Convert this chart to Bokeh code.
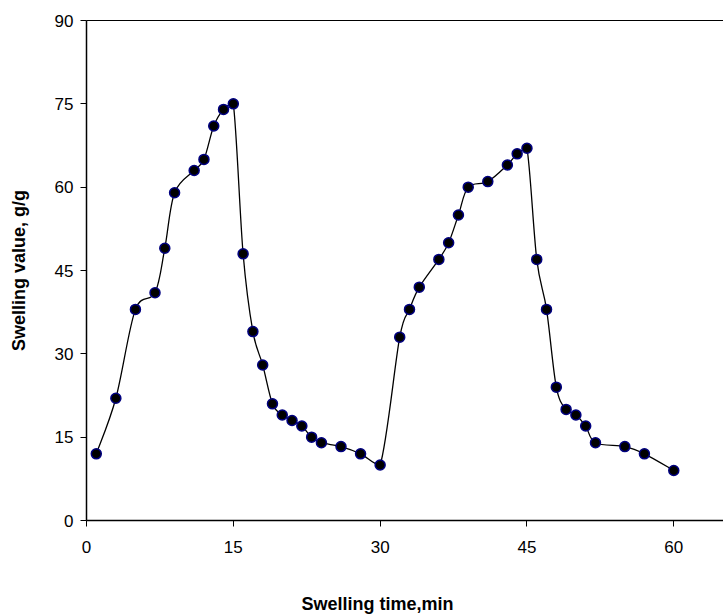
import math
from bokeh.plotting import figure
from bokeh.models import Range1d, FixedTicker, Label, LinearAxis
from bokeh.embed import file_html
from bokeh.resources import INLINE

# Data
time_min = [1, 3, 5, 7, 8, 9, 11, 12, 13, 14, 15, 16, 17, 18, 19, 20, 21, 22, 23, 24,
            26, 28, 30, 32, 33, 34, 36, 37, 38, 39, 41, 43, 44, 45, 46, 47, 48, 49, 50, 51,
            52, 55, 57, 60]
swelling = [12, 22, 38, 41, 49, 59, 63, 65, 71, 74, 75, 48, 34, 28, 21, 19, 18, 17, 15, 14,
            13.3, 12, 10, 33, 38, 42, 47, 50, 55, 60, 61, 64, 66, 67, 47, 38, 24, 20, 19, 17,
            14, 13.3, 12, 9]
x_ticks = [0, 15, 30, 45, 60]
y_ticks = [0, 15, 30, 45, 60, 75, 90]
x_title = "Swelling time,min"
y_title = "Swelling value, g/g"

FONT = "Liberation Sans"
X_END = 65.08

# The frame fills the whole canvas; axes are pinned at x=0 / y=0 so that the
# tick labels and titles around them stay inside the frame.
p = figure(width=723, height=614, output_backend="svg", toolbar_location=None,
           x_range=Range1d(-8.786, X_END), y_range=Range1d(-16.92, 93.6),
           min_border=0, min_border_left=0, min_border_right=0,
           min_border_top=0, min_border_bottom=0)
p.background_fill_color = "white"
p.border_fill_color = "white"
p.outline_line_color = None
p.grid.visible = False

for ax in (p.xaxis[0], p.yaxis[0]):
    ax.axis_line_color = "black"
    ax.axis_line_width = 1.5
    ax.major_tick_line_color = "black"
    ax.major_tick_in = 0
    ax.major_tick_out = 6
    ax.minor_tick_line_color = None
    ax.major_label_text_font = FONT
    ax.major_label_text_font_size = "17px"
    ax.major_label_text_color = "black"

p.xaxis.ticker = FixedTicker(ticks=x_ticks)
p.yaxis.ticker = FixedTicker(ticks=y_ticks)
p.xaxis.fixed_location = 0
p.yaxis.fixed_location = 0
p.xaxis.bounds = (0, X_END)
p.yaxis.bounds = (0, 90)
p.xaxis.major_label_standoff = 14
p.yaxis.major_label_standoff = 7

# top border of the plot area
top = LinearAxis(fixed_location=90, bounds=(0, X_END), axis_line_color="black",
                 axis_line_width=1.2, major_tick_line_color=None,
                 minor_tick_line_color=None, major_label_text_font_size="0px",
                 ticker=FixedTicker(ticks=[]))
p.add_layout(top, "above")

p.add_layout(Label(x=29.73, y=-15.1, text=x_title, text_font=FONT, text_font_style="bold",
                   text_font_size="18px", text_align="center", text_baseline="middle",
                   text_color="black"))
p.add_layout(Label(x=-6.9, y=45, text=y_title, angle=math.pi / 2, text_font=FONT,
                   text_font_style="bold", text_font_size="18px", text_align="center",
                   text_baseline="middle", text_color="black"))

# Smooth line through the points (cubic Bezier segments, handles clamped)
n = len(time_min)
x0s, y0s, x1s, y1s, c0x, c0y, c1x, c1y = [], [], [], [], [], [], [], []
k = 1.0 / 6.0
for i in range(n - 1):
    pxm = time_min[i - 1] if i > 0 else time_min[i]
    pym = swelling[i - 1] if i > 0 else swelling[i]
    pxp = time_min[i + 2] if i + 2 < n else time_min[i + 1]
    pyp = swelling[i + 2] if i + 2 < n else swelling[i + 1]
    xa, ya = time_min[i], swelling[i]
    xb, yb = time_min[i + 1], swelling[i + 1]
    lo, hi = min(ya, yb), max(ya, yb)
    cy0 = min(max(ya + (yb - pym) * k, lo), hi)
    cy1 = min(max(yb - (pyp - ya) * k, lo), hi)
    x0s.append(xa); y0s.append(ya); x1s.append(xb); y1s.append(yb)
    c0x.append(xa + (xb - pxm) * k); c0y.append(cy0)
    c1x.append(xb - (pxp - xa) * k); c1y.append(cy1)

p.bezier(x0=x0s, y0=y0s, x1=x1s, y1=y1s, cx0=c0x, cy0=c0y, cx1=c1x, cy1=c1y,
         line_color="black", line_width=1.3)

p.scatter(time_min, swelling, size=10, fill_color="black", line_color="#000080",
          line_width=1.5)

open("out.html", "w").write(file_html(p, INLINE))
